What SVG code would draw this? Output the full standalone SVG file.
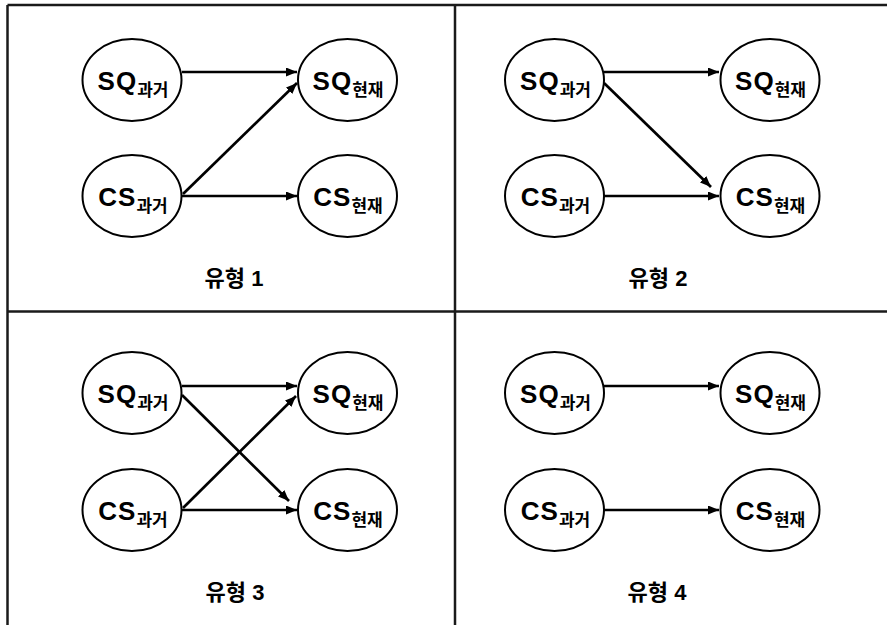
<svg xmlns="http://www.w3.org/2000/svg" width="887" height="625" viewBox="0 0 887 625">
<defs>
<marker id="ah" markerUnits="userSpaceOnUse" markerWidth="12" markerHeight="10" refX="11" refY="4.5" orient="auto">
<path d="M0,0 L11,4.5 L0,9 z" fill="#000"/>
</marker>
<style>
.frame{stroke:#1a1a1a;stroke-width:2.5;fill:none}
.el{fill:#fff;stroke:#000;stroke-width:2}
.n{font-family:"Liberation Sans","Noto Sans CJK KR",sans-serif;font-weight:bold;font-size:26px;letter-spacing:1px;text-anchor:middle;fill:#000}
.s{font-size:17px;letter-spacing:0}
.lab{font-family:"Liberation Sans","Noto Sans CJK KR",sans-serif;font-weight:bold;font-size:22px;text-anchor:middle;fill:#000}
.c line{stroke:#000;stroke-width:2.7;marker-end:url(#ah)}
</style>
</defs>
<rect width="887" height="625" fill="#fff"/>
<g id="frame">
<line class="frame" x1="7.5" y1="5" x2="887" y2="5"/>
<line class="frame" x1="7.5" y1="5" x2="7.5" y2="625"/>
<line class="frame" x1="7.5" y1="311.5" x2="887" y2="311.5"/>
<line class="frame" x1="455" y1="5" x2="455" y2="625"/>
</g>

<!-- Panel 1 -->
<g id="p1-sq-past"><ellipse class="el" cx="132" cy="80" rx="49.5" ry="41"/><text class="n" x="133" y="90">SQ<tspan class="s" dy="5.5">과거</tspan></text></g>
<g id="p1-sq-now"><ellipse class="el" cx="347.5" cy="80" rx="49.5" ry="41"/><text class="n" x="348" y="90">SQ<tspan class="s" dy="5.5">현재</tspan></text></g>
<g id="p1-cs-past"><ellipse class="el" cx="132" cy="196" rx="49.5" ry="41"/><text class="n" x="133" y="206">CS<tspan class="s" dy="5.5">과거</tspan></text></g>
<g id="p1-cs-now"><ellipse class="el" cx="347.5" cy="196" rx="49.5" ry="41"/><text class="n" x="348" y="206">CS<tspan class="s" dy="5.5">현재</tspan></text></g>
<text id="p1-label" class="lab" x="234" y="286">유형 1</text>

<!-- Panel 2 -->
<g id="p2-sq-past"><ellipse class="el" cx="554.5" cy="80" rx="49.5" ry="41"/><text class="n" x="555.5" y="90">SQ<tspan class="s" dy="5.5">과거</tspan></text></g>
<g id="p2-sq-now"><ellipse class="el" cx="770" cy="80" rx="49.5" ry="41"/><text class="n" x="770.5" y="90">SQ<tspan class="s" dy="5.5">현재</tspan></text></g>
<g id="p2-cs-past"><ellipse class="el" cx="554.5" cy="196" rx="49.5" ry="41"/><text class="n" x="555.5" y="206">CS<tspan class="s" dy="5.5">과거</tspan></text></g>
<g id="p2-cs-now"><ellipse class="el" cx="770" cy="196" rx="49.5" ry="41"/><text class="n" x="770.5" y="206">CS<tspan class="s" dy="5.5">현재</tspan></text></g>
<text id="p2-label" class="lab" x="658" y="286">유형 2</text>

<!-- Panel 3 -->
<g id="p3-sq-past"><ellipse class="el" cx="132" cy="393" rx="49.5" ry="41"/><text class="n" x="133" y="403">SQ<tspan class="s" dy="5.5">과거</tspan></text></g>
<g id="p3-sq-now"><ellipse class="el" cx="347.5" cy="393" rx="49.5" ry="41"/><text class="n" x="348" y="403">SQ<tspan class="s" dy="5.5">현재</tspan></text></g>
<g id="p3-cs-past"><ellipse class="el" cx="132" cy="510" rx="49.5" ry="41"/><text class="n" x="133" y="520">CS<tspan class="s" dy="5.5">과거</tspan></text></g>
<g id="p3-cs-now"><ellipse class="el" cx="347.5" cy="510" rx="49.5" ry="41"/><text class="n" x="348" y="520">CS<tspan class="s" dy="5.5">현재</tspan></text></g>
<text id="p3-label" class="lab" x="235" y="600">유형 3</text>

<!-- Panel 4 -->
<g id="p4-sq-past"><ellipse class="el" cx="554.5" cy="393" rx="49.5" ry="41"/><text class="n" x="555.5" y="403">SQ<tspan class="s" dy="5.5">과거</tspan></text></g>
<g id="p4-sq-now"><ellipse class="el" cx="770" cy="393" rx="49.5" ry="41"/><text class="n" x="770.5" y="403">SQ<tspan class="s" dy="5.5">현재</tspan></text></g>
<g id="p4-cs-past"><ellipse class="el" cx="554.5" cy="510" rx="49.5" ry="41"/><text class="n" x="555.5" y="520">CS<tspan class="s" dy="5.5">과거</tspan></text></g>
<g id="p4-cs-now"><ellipse class="el" cx="770" cy="510" rx="49.5" ry="41"/><text class="n" x="770.5" y="520">CS<tspan class="s" dy="5.5">현재</tspan></text></g>
<text id="p4-label" class="lab" x="657" y="600">유형 4</text>

<g id="connectors" class="c">
<line x1="182" y1="72" x2="297" y2="72"/>
<line x1="182" y1="196" x2="297" y2="196"/>
<line x1="183" y1="194" x2="297" y2="83"/>

<line x1="604" y1="72" x2="719" y2="72"/>
<line x1="604" y1="196" x2="719" y2="196"/>
<line x1="604" y1="83" x2="711" y2="187"/>

<line x1="182" y1="386" x2="297" y2="386"/>
<line x1="182" y1="510" x2="297" y2="510"/>
<line x1="182" y1="395" x2="289" y2="501"/>
<line x1="183" y1="508" x2="296" y2="396"/>

<line x1="604" y1="386" x2="719" y2="386"/>
<line x1="604" y1="510" x2="719" y2="510"/>
</g>
</svg>
